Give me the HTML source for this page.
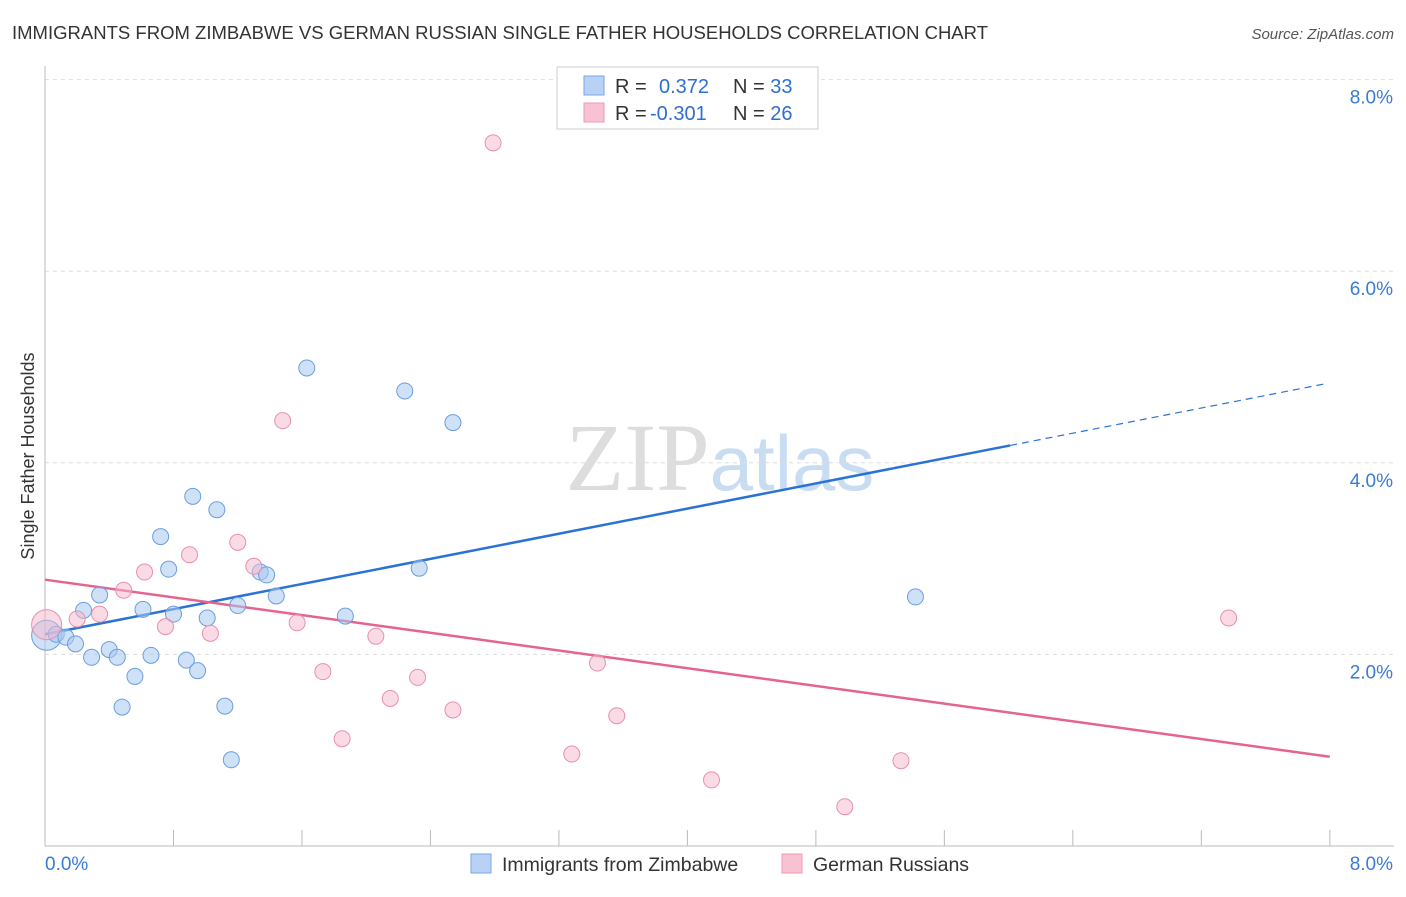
<!DOCTYPE html>
<html><head><meta charset="utf-8"><style>
body{margin:0;background:#fff;font-family:"Liberation Sans",sans-serif;}
</style></head><body>
<svg id="chart" width="1406" height="892" xmlns="http://www.w3.org/2000/svg" style="font-family:'Liberation Sans',sans-serif">
<text x="12" y="39" font-size="18" fill="#333" textLength="976" lengthAdjust="spacingAndGlyphs">IMMIGRANTS FROM ZIMBABWE VS GERMAN RUSSIAN SINGLE FATHER HOUSEHOLDS CORRELATION CHART</text>
<text x="1394" y="39" font-size="15" fill="#555" text-anchor="end" font-style="italic">Source: ZipAtlas.com</text>
<text x="720" y="490" font-size="96" text-anchor="middle" fill="#ddd" font-family="Liberation Serif">ZIP<tspan fill="#c8dcf2" font-family="Liberation Sans" font-size="78">atlas</tspan></text>
<g id="grid"></g><g id="axes"></g><g id="lines"></g><g id="pts"></g>
<text transform="translate(34,456) rotate(-90)" font-size="18" fill="#333" text-anchor="middle">Single Father Households</text>
<g>
<rect x="557" y="67" width="261" height="62" fill="#fff" stroke="#ccc"/>
<rect x="584" y="76" width="20" height="19" fill="#b8d2f5" stroke="#7aa6e6"/>
<rect x="584" y="103" width="20" height="19" fill="#f9c2d2" stroke="#ec9ab4"/>
<text x="615" y="93" font-size="20" fill="#333">R = <tspan fill="#2f6fd0" x="659">0.372</tspan><tspan fill="#333" x="733">N = </tspan><tspan fill="#2f6fd0">33</tspan></text>
<text x="615" y="120" font-size="20" fill="#333">R = <tspan fill="#2f6fd0" x="650">-0.301</tspan><tspan fill="#333" x="733">N = </tspan><tspan fill="#2f6fd0">26</tspan></text>
</g>
<g>
<rect x="471" y="854" width="20" height="19" fill="#b8d2f5" stroke="#7aa6e6"/>
<text x="502" y="871" font-size="19.5" fill="#333">Immigrants from Zimbabwe</text>
<rect x="782" y="854" width="20" height="19" fill="#f9c2d2" stroke="#ec9ab4"/>
<text x="813" y="871" font-size="19.5" fill="#333">German Russians</text>
</g>
</svg>
<script>
const blueX=[0.01,0.07,0.13,0.19,0.24,0.29,0.34,0.40,0.45,0.48,0.56,0.61,0.66,0.72,0.77,0.80,0.88,0.92,0.95,1.01,1.07,1.12,1.16,1.20,1.34,1.38,1.44,1.63,1.87,2.24,2.33,2.54,5.42];
const blueY=[2.20,2.21,2.18,2.11,2.46,1.97,2.62,2.05,1.97,1.45,1.77,2.47,1.99,3.23,2.89,2.42,1.94,3.65,1.83,2.38,3.51,1.46,0.90,2.51,2.86,2.83,2.61,4.99,2.40,4.75,2.90,4.42,2.60];
const pinkX=[0.01,0.20,0.34,0.49,0.62,0.75,0.90,1.03,1.20,1.30,1.48,1.57,1.73,1.85,2.06,2.15,2.32,2.54,2.79,3.28,3.44,3.56,4.15,4.98,5.33,7.37];
const pinkY=[2.31,2.37,2.42,2.67,2.86,2.29,3.04,2.22,3.17,2.92,4.44,2.33,1.82,1.12,2.19,1.54,1.76,1.42,7.34,0.96,1.91,1.36,0.69,0.41,0.89,2.38];
const yTicks=[2,4,6,8];
const xTickLabels=["0.0%","8.0%"];
const blueTrend=[2.21,0.328];
const pinkTrend=[2.78,-0.231];
const X=v=>45+v*160.6, Y=v=>846-v*95.8;
const NS="http://www.w3.org/2000/svg";
function mk(p,t,a){const e=document.createElementNS(NS,t);for(const k in a)e.setAttribute(k,a[k]);document.getElementById(p).appendChild(e);return e;}
yTicks.forEach(t=>{
 const l=mk('grid','line',{x1:45,x2:1394,y1:Y(t),y2:Y(t),stroke:'#ddd','stroke-dasharray':'4,4'});
 
 
 const tx=mk('grid','text',{x:1393,y:Y(t)+24,'font-size':19,fill:'#3a7bd5','text-anchor':'end'});tx.textContent=t.toFixed(1)+'%';
 
 
});
const ax=mk('axes','line',{x1:45,x2:45,y1:66,y2:846,stroke:'#bbb'});


const bx=mk('axes','line',{x1:45,x2:1394,y1:846,y2:846,stroke:'#bbb'});


for(let i=1;i<=10;i++){const t=mk('axes','line',{x1:X(i*0.8),x2:X(i*0.8),y1:830,y2:846,stroke:'#bbb'});
 
 }
[[0,'start',45],[1,'end',1393]].forEach(([i,a,x])=>{const t=mk('axes','text',{x:x,y:870,'font-size':19,fill:'#3a7bd5','text-anchor':a});t.textContent=xTickLabels[i];
 
 });
function tl(tr,x0,x1,col,dash,name){const l=mk('lines','line',{x1:X(x0),y1:Y(tr[0]+tr[1]*x0),x2:X(x1),y2:Y(tr[0]+tr[1]*x1),stroke:col,'stroke-width':dash?1.2:2.5});if(dash)l.setAttribute('stroke-dasharray','7,5');
 
 }
tl(blueTrend,0,6.01,'#2a72d6',false,'blue-trend-line');
tl(blueTrend,6.01,7.97,'#2a72d6',true,'blue-trend-extension');
tl(pinkTrend,0,8,'#e5648f',false,'pink-trend-line');
blueX.forEach((v,i)=>{const c=mk('pts','circle',{cx:X(v),cy:Y(blueY[i]),r:i==0?15:8,fill:'rgba(168,200,240,0.55)',stroke:'#6a9ee0','stroke-width':1});
 
 });
pinkX.forEach((v,i)=>{const c=mk('pts','circle',{cx:X(v),cy:Y(pinkY[i]),r:i==0?15:8,fill:'rgba(245,184,204,0.5)',stroke:'#e890aa','stroke-width':1});
 
 });
</script>
</body></html>
